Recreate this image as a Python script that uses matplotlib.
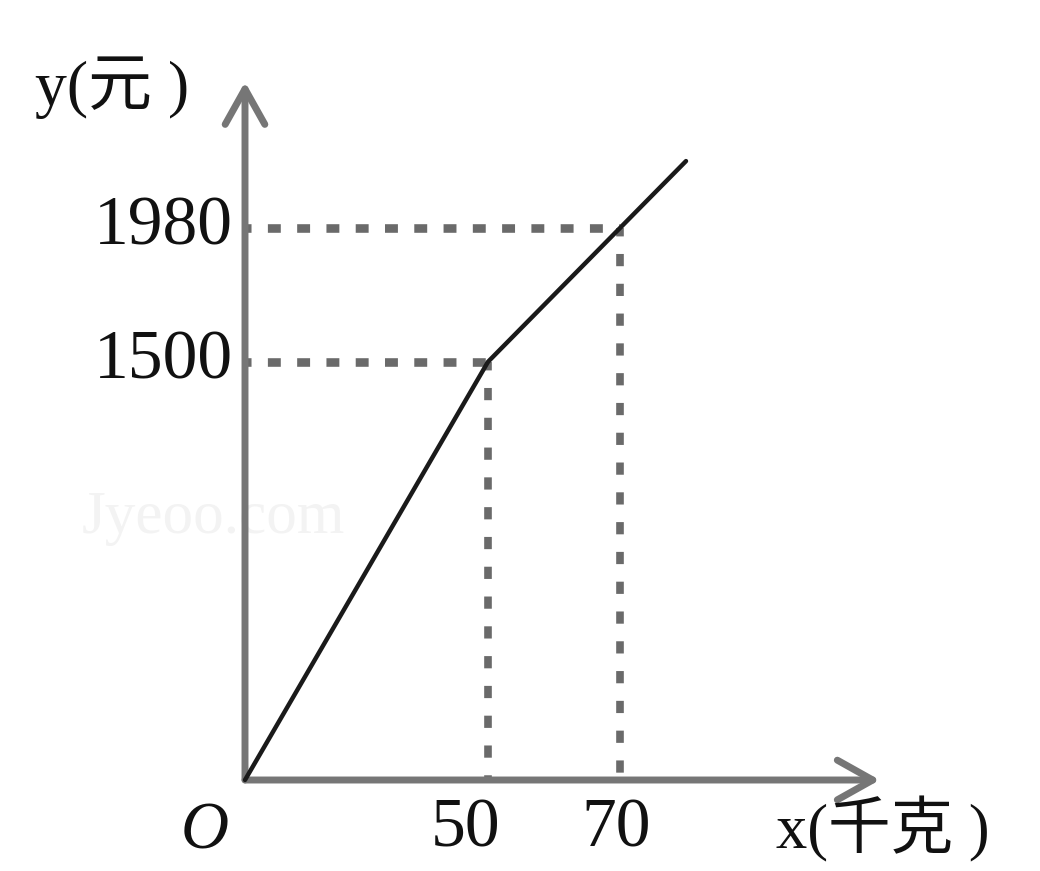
import numpy as np
import matplotlib
matplotlib.use("Agg")
import matplotlib.pyplot as plt

# piecewise cost function: weight (kg) -> cost (yuan)
weights = [0, 50, 70, 80]
costs = [0, 1500, 1980, 2220]

# marked values on the axes
x_marks = [50, 70]
y_marks = [1500, 1980]

AXIS_GREY = "#767676"
DASH_GREY = "#6a6a6a"
SERIF = ["Liberation Serif", "Noto Sans CJK SC"]

# schematic x axis: each segment gets its own length, like a textbook sketch
seg_knots = [-1000, 0, 50, 70, 1000]
seg_px = [-4860, 0, 243, 375, 375 + 930 * 6.6]


def fwd(x):
    return np.interp(x, seg_knots, seg_px)


def inv(p):
    return np.interp(p, seg_px, seg_knots)


fig = plt.figure(figsize=(10.4, 8.71), dpi=100)
ax = fig.add_axes([0, 0, 1, 1])
ax.set_xscale("function", functions=(fwd, inv))
ax.set_xlim(inv(-245), inv(795))
ax.set_ylim(-326.4, 2797.8)
ax.axis("off")

# axes with open arrowheads
arrow = dict(arrowstyle="->,head_length=0.75,head_width=0.42",
             color=AXIS_GREY, lw=5.0, mutation_scale=34, shrinkA=0, shrinkB=0)
ax.annotate("", xy=(0.846, 0), xytext=(0, 0),
            xycoords=ax.get_yaxis_transform(), textcoords="data",
            arrowprops=arrow)
ax.annotate("", xy=(0, 0.906), xytext=(0, 0),
            xycoords=ax.get_xaxis_transform(), textcoords="data",
            arrowprops=arrow)

# guide lines from the break points to the axes
for xv, yv in zip(weights[1:3], costs[1:3]):
    ax.plot([0, xv], [yv, yv], color=DASH_GREY, lw=6.2, ls=(0.8, (1.5, 1.9)),
            solid_capstyle="butt", dash_capstyle="butt", zorder=2)
    ax.plot([xv, xv], [yv, 0], color=DASH_GREY, lw=5.5, ls=(0.5, (1.6, 2.3)),
            solid_capstyle="butt", dash_capstyle="butt", zorder=2)

ax.plot(weights, costs, color="#1a1a1a", lw=3.2, zorder=3,
        solid_capstyle="round")

# tick labels
for yv in y_marks:
    ax.annotate(str(yv), xy=(0, yv), xytext=(-12, 0), textcoords="offset pixels",
                ha="right", va="center", fontsize=50, family=SERIF, color="#111")
for xv, dx in zip(x_marks, [-22, -4]):
    ax.annotate(str(xv), xy=(xv, 0), xytext=(dx, -50), textcoords="offset pixels",
                ha="center", va="center", fontsize=50, family=SERIF, color="#111")

ax.annotate("O", xy=(0, 0), xytext=(-40, -52), textcoords="offset pixels",
            ha="center", va="center", fontsize=48, family=SERIF,
            style="italic", color="#111")

ax.text(0.034, 0.899, "y(元 )", transform=ax.transAxes, ha="left",
        va="center", fontsize=46, family=SERIF, color="#111")
ax.text(0.746, 0.048, "x(千克 )", transform=ax.transAxes, ha="left",
        va="center", fontsize=45, family=SERIF, color="#111")

# faint site watermark
ax.text(0.205, 0.405, "Jyeoo.com", transform=ax.transAxes, ha="center",
        va="center", fontsize=44, family=["Liberation Serif"],
        color="#f3f3f3", zorder=0)

fig.savefig("out.png", dpi=100, facecolor="white")
